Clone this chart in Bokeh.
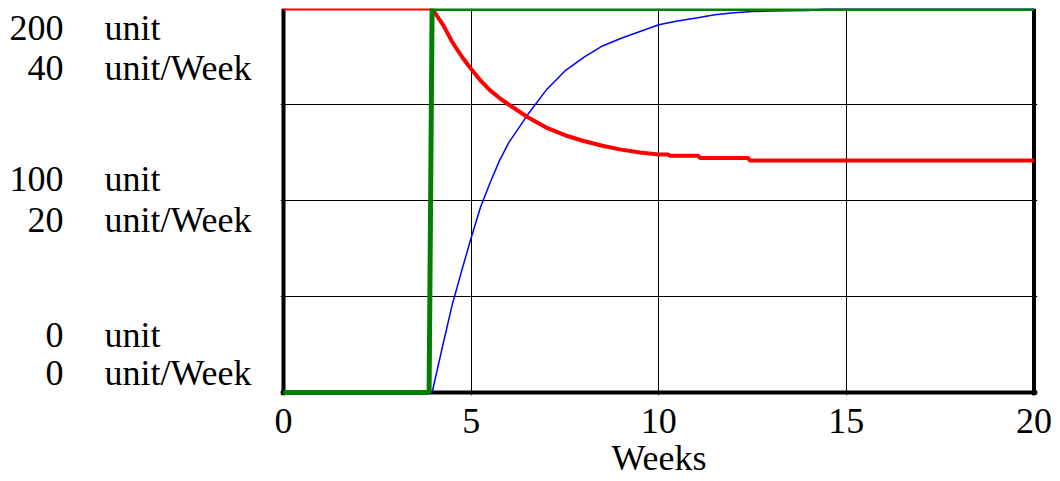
from bokeh.plotting import figure
from bokeh.models import Range1d, FixedTicker, Grid, Span, ColumnDataSource
from bokeh.layouts import row
from bokeh.core.properties import value
from bokeh.embed import file_html
from bokeh.resources import INLINE

# ---- data ----
weeks_ticks = [0, 5, 10, 15, 20]
y_grid_ticks = [0, 50, 100, 150, 200]

# left scale labels: numbers and their units
num_labels = ["200", "40", "100", "20", "0", "0"]
unit_labels = ["unit", "unit/Week", "unit", "unit/Week", "unit", "unit/Week"]

# green series (unit/Week, scale 0..40)
green_t = [0, 3.88, 3.96, 20]
green_v = [0, 0, 40, 40]

# red series (unit, scale 0..200)
red_t = [0, 3.96, 4.25, 4.5, 4.75, 5.0, 5.25, 5.5, 5.75, 6.0, 6.5, 7.0, 7.5, 8.0,
         8.5, 9.0, 9.5, 10.0, 10.25, 10.3, 11.05, 11.1, 12.38, 12.43, 20]
red_v = [200, 200, 191.5, 182.5, 175, 168.5, 162.5, 157.5, 153.5, 150, 143.5, 138, 134, 131,
         128.5, 126.5, 125, 124, 124, 123.3, 123.3, 122.2, 122.2, 120.8, 120.8]

# blue series (unit, scale 0..200)
blue_t = [0, 3.96, 4.25, 4.5, 4.75, 5.0, 5.25, 5.5, 5.75, 6.0, 6.5, 7.0, 7.5, 8.0, 8.5,
          9.0, 9.5, 10.0, 10.5, 11.0, 11.5, 12.0, 12.5, 13.0, 14.0, 14.5, 20]
blue_v = [0, 0, 25, 46, 63.5, 80.5, 96.5, 109, 120.5, 130, 144.5, 157.5, 167.5, 174.5, 180.5,
          184.5, 188, 191.5, 193.5, 195, 196.7, 197.8, 198.4, 198.7, 199, 200, 200]

FONT = "Liberation Serif"
FS = "36px"

y_range = Range1d(-1.5625, 200)

# ---------- left label panel (shares the unit scale) ----------
left = figure(width=260, height=481, output_backend="svg", toolbar_location=None,
              x_range=Range1d(0, 260), y_range=y_range,
              x_axis_location=None, y_axis_location=None,
              min_border_left=0, min_border_right=0, min_border_top=8, min_border_bottom=86)
left.outline_line_color = None
left.xgrid.visible = False
left.ygrid.visible = False
# text rows, on the unit scale: two rows near each of the 200 / 100 / 0 levels
label_y = [189.8, 169.0, 111.1, 90.1, 30.2, 10.2]
src = ColumnDataSource(dict(y=label_y, num=num_labels, unit=unit_labels,
                            xn=[63] * 6, xu=[104] * 6))
left.text(x="xn", y="y", text="num", source=src, text_align="right", text_baseline="middle",
          text_font=value(FONT), text_font_size=value(FS), text_color="black")
left.text(x="xu", y="y", text="unit", source=src, text_align="left", text_baseline="middle",
          text_font=value(FONT), text_font_size=value(FS), text_color="black")

# ---------- main chart ----------
p = figure(width=800, height=481, output_backend="svg", toolbar_location=None,
           x_range=Range1d(-0.08, 20.0933), y_range=y_range,
           y_axis_location=None, min_border_left=20, min_border_right=23,
           min_border_top=8, min_border_bottom=86)
p.outline_line_color = None
p.background_fill_color = "white"
p.border_fill_color = "white"

p.xgrid.ticker = FixedTicker(ticks=weeks_ticks)
p.xgrid.grid_line_color = "black"
p.xgrid.grid_line_width = 1
p.add_layout(Grid(dimension=1, ticker=FixedTicker(ticks=y_grid_ticks),
                  grid_line_color="black", grid_line_width=1))

for loc, dim in [(0, "width"), (0, "height"), (20, "height")]:
    p.add_layout(Span(location=loc, dimension=dim, line_color="black",
                      line_width=4, level="underlay"))

ax = p.xaxis[0]
ax.ticker = FixedTicker(ticks=weeks_ticks)
ax.axis_line_color = None
ax.major_tick_line_color = None
ax.minor_tick_line_color = None
ax.major_tick_out = 0
ax.major_tick_in = 0
ax.major_label_standoff = 13
ax.major_label_text_font = FONT
ax.major_label_text_font_size = FS
ax.major_label_text_color = "black"
ax.axis_label = "Weeks"
ax.axis_label_text_font = FONT
ax.axis_label_text_font_size = FS
ax.axis_label_text_font_style = "normal"
ax.axis_label_text_color = "black"
ax.axis_label_standoff = 2

p.line(blue_t, blue_v, line_color="#0000ff", line_width=1.5)
p.line(red_t, red_v, line_color="#ff0000", line_width=4)
green_scaled = [v * 200 / 40 for v in green_v]
p.line(green_t, green_scaled, line_color="#008000", line_width=5)

layout = row(left, p, spacing=0)
open("out.html", "w").write(file_html(layout, INLINE))
